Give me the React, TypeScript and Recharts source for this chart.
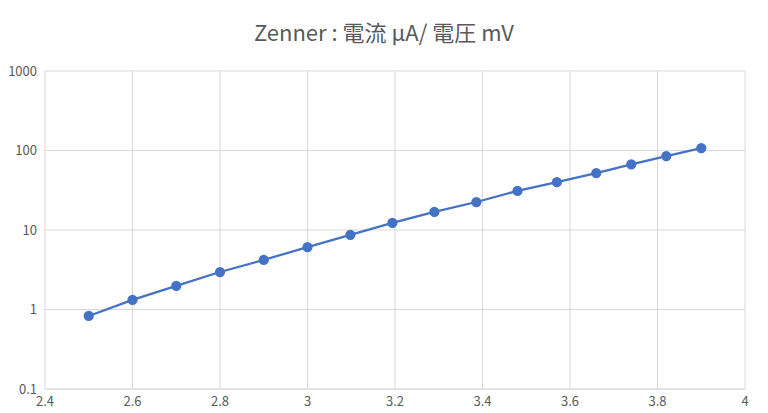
import React from "react";
import { LineChart, Line, XAxis, YAxis, CartesianGrid } from "recharts";

const voltages = [2.5, 2.6, 2.7, 2.8, 2.9, 3.0, 3.098, 3.194, 3.29, 3.386, 3.48, 3.57, 3.66, 3.74, 3.82, 3.9];
const currents = [0.83, 1.32, 1.98, 2.96, 4.2, 6.1, 8.7, 12.3, 16.9, 22.5, 31, 40, 52, 67, 85, 107];
const xTicks = [2.4, 2.6, 2.8, 3, 3.2, 3.4, 3.6, 3.8, 4];
const yTicks = [0.1, 1, 10, 100, 1000];

const data = voltages.map((v, i) => ({ v, c: currents[i] }));

if (typeof document !== "undefined") document.body.style.margin = "0";

export default function App() {
  const font = "'Noto Sans CJK JP', 'Noto Sans', sans-serif";
  return (
    <div style={{ position: "relative", width: 768, height: 413, background: "#fff", fontFamily: font }}>
      <div style={{ position: "absolute", top: 15, left: 0, width: 768, textAlign: "center", fontSize: 22, color: "#595959" }}>
        Zenner : 電流 µA/ 電圧 mV
      </div>
      <LineChart width={768} height={413} data={data} margin={{ top: 71, right: 23, bottom: 4, left: 5 }}>
        <CartesianGrid stroke="#d9d9d9" />
        <XAxis
          dataKey="v"
          type="number"
          domain={[2.4, 4]}
          ticks={xTicks}
          tickFormatter={(t) => String(t)}
          height={20}
          tickLine={false}
          axisLine={{ stroke: "#d9d9d9" }}
          tick={{ fill: "#595959", fontSize: 13, fontFamily: font }}
        />
        <YAxis
          dataKey="c"
          scale="log"
          domain={[0.1, 1000]}
          ticks={yTicks}
          allowDataOverflow
          width={40}
          tickLine={false}
          axisLine={false}
          tick={{ fill: "#595959", fontSize: 13, fontFamily: font }}
        />
        <Line
          dataKey="c"
          stroke="#4472c4"
          strokeWidth={2.25}
          dot={{ r: 4, fill: "#4472c4", stroke: "#4472c4" }}
          isAnimationActive={false}
        />
      </LineChart>
    </div>
  );
}
